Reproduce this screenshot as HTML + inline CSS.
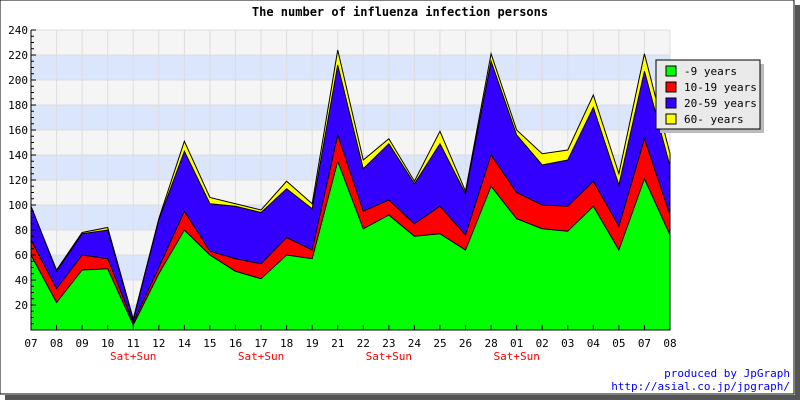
<!DOCTYPE html>
<html><head><meta charset="utf-8"><style>
body{margin:0;background:#fff}
svg{display:block;font-family:"DejaVu Sans Mono","Liberation Mono",monospace}
</style></head><body>
<svg width="800" height="400" viewBox="0 0 800 400">
<rect x="0" y="0" width="794" height="394" fill="#fff" stroke="#000"/>
<rect x="795" y="5" width="5" height="395" fill="#555"/>
<rect x="5" y="395" width="795" height="5" fill="#555"/>
<text x="400" y="16" text-anchor="middle" font-size="12" font-weight="bold">The number of influenza infection persons</text>
<g id="plot"></g>
<g id="axes"></g>
<g>
<rect x="660" y="64" width="104" height="69" fill="#bbb"/>
<rect x="656" y="60" width="104" height="69" fill="#eaeaea" stroke="#000"/>
<g id="legend"></g>
</g>
<text x="790" y="377" text-anchor="end" font-size="11" fill="#00f">produced by JpGraph</text>
<text x="790" y="390" text-anchor="end" font-size="11" fill="#00f">http://asial.co.jp/jpgraph/</text>
</svg>
<script>
const categories=["07","08","09","10","11","12","14","15","16","17","18","19","21","22","23","24","25","26","28","01","02","03","04","05","07","08"];
const weekendMarks=["","","","","Sat+Sun","","","","","Sat+Sun","","","","","Sat+Sun","","","","","Sat+Sun","","","","","",""];
const age0_9=[60,22,48,49,4,45,80,60,47,41,60,57,135,81,92,75,77,64,115,89,81,79,99,64,121,76];
const age10_19=[12,11,12,8,2,5,15,3,10,12,14,7,21,14,12,10,22,12,25,21,19,20,20,19,32,16];
const age20_59=[27,14,17,23,2,38,48,38,42,41,39,33,56,34,45,32,50,33,75,46,32,37,59,33,54,39];
const age60=[0,1,1,2,1,1,8,5,2,2,6,4,12,7,4,2,10,2,6,4,9,8,10,9,14,10];
const seriesNames=["-9 years","10-19 years","20-59 years","60- years"];
const yTicks=[20,40,60,80,100,120,140,160,180,200,220,240];
const NS="http://www.w3.org/2000/svg";
const X0=31,X1=670,Y0=330,Y1=30,YMAX=240;
const xs=i=>X0+(X1-X0)*i/(categories.length-1);
const ys=v=>Y0-(Y0-Y1)*v/YMAX;
function mk(t,a,p){const e=document.createElementNS(NS,t);for(const k in a)e.setAttribute(k,a[k]);p.appendChild(e);return e;}
const plot=document.getElementById('plot'),axes=document.getElementById('axes'),leg=document.getElementById('legend');
// bands
for(let v=0;v<YMAX;v+=20){const r=mk('rect',{x:X0,y:ys(v+20),width:X1-X0,height:ys(v)-ys(v+20),fill:(v/20)%2?'#f5f5f5':'#dbe5fb'},plot);

}
for(let i=0;i<categories.length;i++){const l=mk('line',{x1:xs(i),x2:xs(i),y1:Y1,y2:Y0,stroke:'#ddd'},plot);

}
yTicks.forEach(v=>{const l=mk('line',{x1:X0,x2:X1,y1:ys(v),y2:ys(v),stroke:'#ddd'},plot);

});
const series=[age0_9,age10_19,age20_59,age60],colors=['#00ff00','#ff0000','#3300ff','#ffff00'];
const cum=[];let base=categories.map(()=>0);
series.forEach(s=>{const top=base.map((b,i)=>b+s[i]);cum.push([base,top]);base=top;});
for(let k=series.length-1;k>=0;k--){
 const top=cum[k][1];
 let d='M'+xs(0)+','+ys(0);
 top.forEach((v,i)=>d+=' L'+xs(i)+','+ys(v));
 d+=' L'+xs(top.length-1)+','+ys(0)+' Z';
 const p=mk('path',{d:d,fill:colors[k],stroke:'#000','stroke-width':1},plot);
 
 
}
// axes
mk('line',{x1:X0,x2:X0,y1:Y1,y2:Y0,stroke:'#000'},axes);
mk('line',{x1:X0,x2:X1,y1:Y0,y2:Y0,stroke:'#000'},axes);
for(let v=0;v<=YMAX;v+=5){mk('line',{x1:X0,x2:X0+(v%20?3:5),y1:ys(v),y2:ys(v),stroke:'#000'},axes);}
yTicks.forEach(v=>{const t=mk('text',{x:X0-3,y:ys(v)+4,'text-anchor':'end','font-size':11},axes);t.textContent=v;

});
categories.forEach((c,i)=>{mk('line',{x1:xs(i),x2:xs(i),y1:Y0,y2:Y0-5,stroke:'#000'},axes);
 const t=mk('text',{x:xs(i),y:Y0+17,'text-anchor':'middle','font-size':11},axes);t.textContent=c;
 
 
 if(weekendMarks[i]){const w=mk('text',{x:xs(i),y:Y0+30,'text-anchor':'middle','font-size':11,fill:'#f00'},axes);w.textContent=weekendMarks[i];
 
 }
});
seriesNames.forEach((n,k)=>{const y=66+k*16;
 mk('rect',{x:666,y:y,width:10,height:10,fill:colors[k],stroke:'#000'},leg);
 const t=mk('text',{x:684,y:y+9,'font-size':11},leg);t.textContent=n;
 
 });
</script>
</body></html>
